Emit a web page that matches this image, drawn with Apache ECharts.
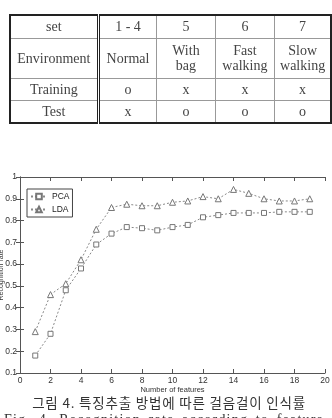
<!DOCTYPE html>
<html>
<head>
<meta charset="utf-8">
<script src="https://cdn.jsdelivr.net/npm/echarts@6/dist/echarts.min.js"></script>
<style>
  html, body { margin: 0; padding: 0; width: 332px; height: 418px; overflow: hidden; background: #fff; }
  #main { position: absolute; left: 0; top: 0; width: 332px; height: 418px; }
  table { position: absolute; left: 9px; top: 14px; border-collapse: collapse; border: 2px solid #222;
          font-family: "Liberation Serif", serif; font-size: 14px; color: #444; }
  td { border: 1px solid #999; text-align: center; padding: 0; line-height: 15px; }
  td.h { border-right: 3px double #222; }
  .cap { position: absolute; left: 0; width: 332px; text-align: center; white-space: nowrap; }
</style>
</head>
<body>
<div id="main"></div>
<table>
  <tr style="height:23px"><td class="h" style="width:86px">set</td><td style="width:57px">1 - 4</td><td style="width:58px">5</td><td style="width:59px">6</td><td style="width:55px">7</td></tr>
  <tr style="height:40px"><td class="h">Environment</td><td>Normal</td><td>With<br>bag</td><td>Fast<br>walking</td><td>Slow<br>walking</td></tr>
  <tr style="height:22px"><td class="h">Training</td><td>o</td><td>x</td><td>x</td><td>x</td></tr>
  <tr style="height:23px"><td class="h">Test</td><td>x</td><td>o</td><td>o</td><td>o</td></tr>
</table>
<div class="cap" style="top:392px; left:3px; font-family:'Noto Sans CJK KR'; font-size:13.5px; letter-spacing:0.8px; color:#333;">그림 4. 특징추출 방법에 따른 걸음걸이 인식률</div>
<div class="cap" style="top:412px; left:4px; text-align:left; font-family:'Liberation Serif'; font-size:14px; letter-spacing:1.2px; word-spacing:3px; color:#333;">Fig. 4. Recognition rate according to feature extraction</div>
<script>
// 특징 수
var features = [1, 2, 3, 4, 5, 6, 7, 8, 9, 10, 11, 12, 13, 14, 15, 16, 17, 18, 19];
var pca = [0.18, 0.28, 0.48, 0.58, 0.69, 0.74, 0.77, 0.765, 0.755, 0.77, 0.78, 0.815, 0.825, 0.835, 0.835, 0.835, 0.84, 0.84, 0.84];
var lda = [0.29, 0.46, 0.51, 0.62, 0.76, 0.86, 0.875, 0.868, 0.868, 0.884, 0.89, 0.91, 0.9, 0.943, 0.925, 0.9, 0.89, 0.89, 0.9];

function pairs(ys) {
    return features.map(function (x, i) { return [x, ys[i]]; });
}

var myChart = echarts.init(document.getElementById('main'));
var axisLine = { lineStyle: { color: '#555', width: 1 } };
var tick = { show: true, inside: true, length: 4, lineStyle: { color: '#555' } };
var labelFont = { fontFamily: 'Liberation Sans', fontSize: 8.5, color: '#333' };

myChart.setOption({
    animation: false,
    grid: { left: 20, right: 7, top: 177, bottom: 45, outerBoundsMode: 'none', containLabel: false },
    legend: {
        left: 27, top: 189,
        orient: 'vertical',
        itemWidth: 16, itemHeight: 7, itemGap: 4,
        padding: [3, 3, 3, 3],
        borderColor: '#444', borderWidth: 1,
        textStyle: { fontFamily: 'Liberation Sans', fontSize: 8.5, color: '#222' },
        data: ['PCA', 'LDA']
    },
    xAxis: [
        {
            type: 'value', min: 0, max: 20, interval: 2,
            name: 'Number of features', nameLocation: 'middle', nameGap: 13, nameMoveOverlap: false,
            nameTextStyle: { fontFamily: 'Liberation Sans', fontSize: 7.5, color: '#333' },
            axisLine: axisLine, axisTick: tick,
            axisLabel: Object.assign({ margin: 3 }, labelFont),
            splitLine: { show: false }
        },
        {
            type: 'value', min: 0, max: 20, interval: 2, position: 'top',
            axisLine: axisLine, axisTick: tick, axisLabel: { show: false }, splitLine: { show: false }
        }
    ],
    yAxis: [
        {
            type: 'value', min: 0.1, max: 1, interval: 0.1,
            name: 'Recognition rate', nameLocation: 'middle', nameGap: 15, nameRotate: 90, nameMoveOverlap: false,
            nameTextStyle: { fontFamily: 'Liberation Sans', fontSize: 7, color: '#333' },
            axisLine: axisLine, axisTick: tick,
            axisLabel: Object.assign({ margin: 3, formatter: function (v) { return String(+v.toFixed(1)); } }, labelFont),
            splitLine: { show: false }
        },
        {
            type: 'value', min: 0.1, max: 1, interval: 0.1, position: 'right',
            axisLine: axisLine, axisTick: tick, axisLabel: { show: false }, splitLine: { show: false }
        }
    ],
    series: [
        {
            name: 'PCA', type: 'line', data: pairs(pca),
            symbol: 'rect', symbolSize: 5,
            itemStyle: { color: '#fff', borderColor: '#777', borderWidth: 1 },
            lineStyle: { color: '#888', width: 1, type: [2, 2] }
        },
        {
            name: 'LDA', type: 'line', data: pairs(lda),
            symbol: 'triangle', symbolSize: 6,
            itemStyle: { color: '#fff', borderColor: '#777', borderWidth: 1 },
            lineStyle: { color: '#888', width: 1, type: [2, 2] }
        }
    ]
});
</script>
</body>
</html>
